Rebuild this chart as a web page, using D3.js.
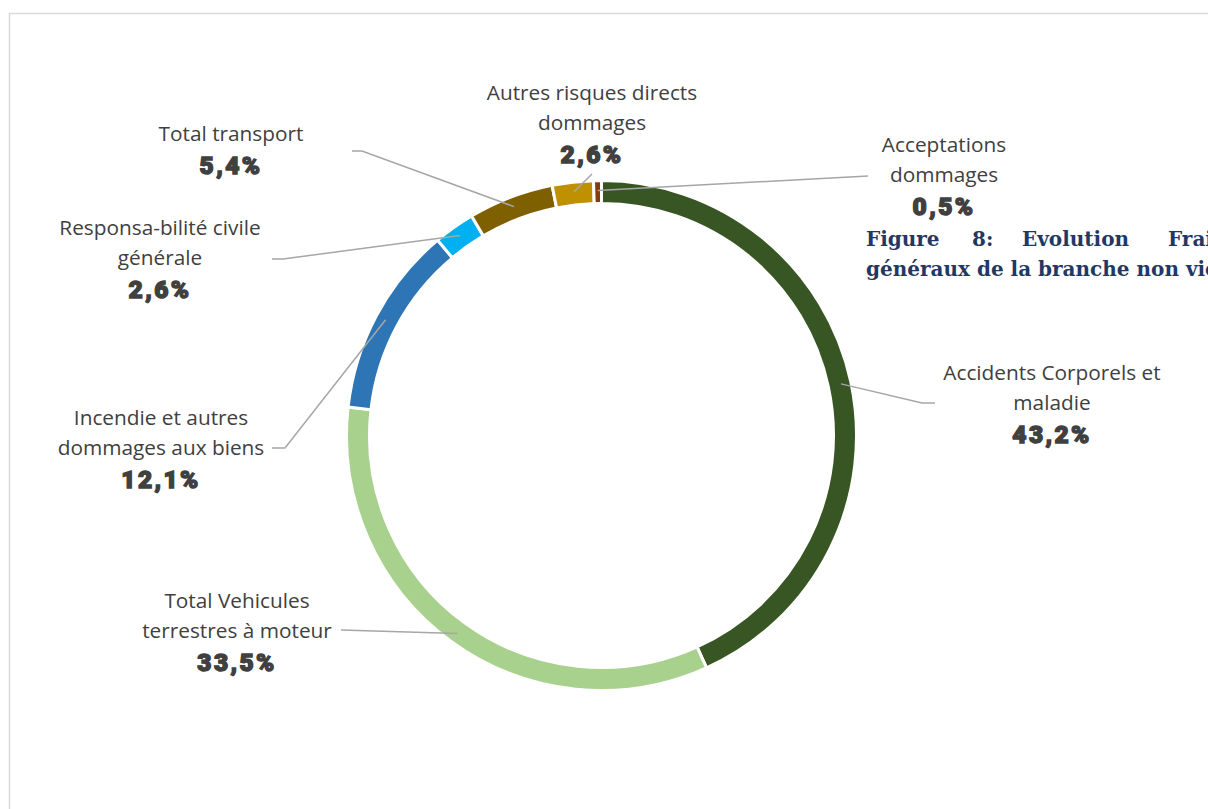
<!DOCTYPE html>
<html>
<head>
<meta charset="utf-8">
<script src="https://cdn.jsdelivr.net/npm/d3@7"></script>
<style>
  html, body { margin: 0; padding: 0; background: #fff; overflow: hidden; }
  svg { display: block; }
</style>
</head>
<body>
<svg id="chart" width="1208" height="809"></svg>
<script>
// ---- data ----
const categories = [
  ["Accidents Corporels et", "maladie"],
  ["Total Vehicules", "terrestres à moteur"],
  ["Incendie et autres", "dommages aux biens"],
  ["Responsa-bilité civile", "générale"],
  ["Total transport"],
  ["Autres risques directs", "dommages"],
  ["Acceptations", "dommages"]
];
const values = [43.2, 33.5, 12.1, 2.6, 5.4, 2.6, 0.5];
const percentLabels = ["43,2%", "33,5%", "12,1%", "2,6%", "5,4%", "2,6%", "0,5%"];
const colors = ["#375623", "#A9D18E", "#2E75B6", "#00B0F0", "#7F6000", "#BF9000", "#843C0C"];
const captionLine1 = ["Figure", "8:", "Evolution", "Frais"];
const captionLine2 = "généraux de la branche non vie";

// ---- layout (label placement as in the reference) ----
const cx = 601.5, cy = 435.5, rOuter = 255, rInner = 232;
const labelLayout = [
  { x: 1052, y: 380, elbow: [922, 403], end: [935, 403] },
  { x: 237,  y: 608, elbow: null,       end: [341, 630] },
  { x: 161,  y: 425, elbow: [285, 448], end: [272, 448] },
  { x: 160,  y: 235, elbow: [283, 259], end: [272, 259] },
  { x: 231,  y: 141, elbow: [362, 151], end: [352, 151] },
  { x: 592,  y: 100, elbow: null,       end: [592, 174] },
  { x: 944,  y: 152, elbow: null,       end: [868, 176] }
];

const svg = d3.select("#chart");

// border of the chart area
svg.append("path")
  .attr("d", "M9.5,809 L9.5,13.5 L1208,13.5")
  .attr("fill", "none")
  .attr("stroke", "#d9d9d9")
  .attr("stroke-width", 1.5);

const pie = d3.pie().sort(null).value(d => d).startAngle(0).endAngle(2 * Math.PI);
const arcs = pie(values);
const arc = d3.arc().innerRadius(rInner).outerRadius(rOuter);
const midArc = d3.arc().innerRadius(245).outerRadius(245);

const g = svg.append("g").attr("transform", `translate(${cx},${cy})`);
g.selectAll("path.slice")
  .data(arcs)
  .join("path")
  .attr("class", "slice")
  .attr("d", arc)
  .attr("fill", (d, i) => colors[i])
  .attr("stroke", "#fff")
  .attr("stroke-width", 3)
  .attr("stroke-linejoin", "miter");

// leader lines
arcs.forEach((d, i) => {
  const c = midArc.centroid(d);
  const L = labelLayout[i];
  const pts = [[cx + c[0], cy + c[1]]];
  if (L.elbow) pts.push(L.elbow);
  pts.push(L.end);
  svg.append("path")
    .attr("d", d3.line()(pts))
    .attr("fill", "none")
    .attr("stroke", "#a6a6a6")
    .attr("stroke-width", 1.5);
});

// labels
categories.forEach((lines, i) => {
  const L = labelLayout[i];
  const t = svg.append("g");
  lines.forEach((ln, k) => {
    t.append("text")
      .attr("x", L.x)
      .attr("y", L.y + k * 30)
      .attr("text-anchor", "middle")
      .attr("font-family", "'Open Sans', 'Noto Sans', sans-serif")
      .attr("font-size", 20.8)
      .attr("fill", "#404040")
      .text(ln);
  });
  t.append("text")
    .attr("x", L.x)
    .attr("y", L.y + lines.length * 30 + 3)
    .attr("text-anchor", "middle")
    .attr("font-family", "Roboto, 'DejaVu Sans', sans-serif")
    .attr("font-weight", 900)
    .attr("font-size", 24.5)
    .attr("letter-spacing", 2.4)
    .attr("fill", "#404040")
    .attr("stroke", "#404040")
    .attr("stroke-width", 1.4)
    .attr("paint-order", "stroke")
    .text(percentLabels[i]);
});

// caption (justified, runs past the page edge as in the reference)
const capX = [866, 972, 1022, 1168];
const cap = svg.append("g")
  .attr("font-family", "'DejaVu Serif', 'Liberation Serif', serif")
  .attr("font-weight", "bold")
  .attr("font-size", 20)
  .attr("fill", "#1F3864");
captionLine1.forEach((w, i) => {
  cap.append("text").attr("x", capX[i]).attr("y", 246).text(w);
});
cap.append("text").attr("x", 866).attr("y", 276).text(captionLine2);
</script>
</body>
</html>
